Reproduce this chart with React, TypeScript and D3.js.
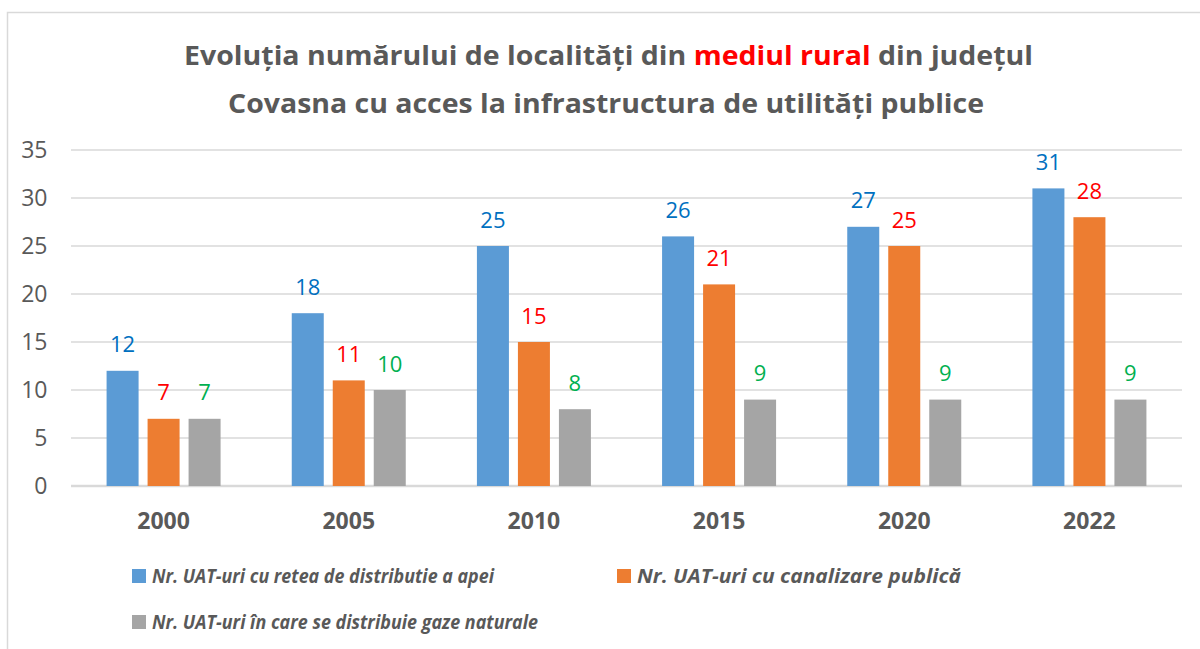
import React from "react";
import * as d3 from "d3";

const years = ["2000", "2005", "2010", "2015", "2020", "2022"];
const apa = [12, 18, 25, 26, 27, 31];
const canalizare = [7, 11, 15, 21, 25, 28];
const gaze = [7, 10, 8, 9, 9, 9];
const yTicks = [0, 5, 10, 15, 20, 25, 30, 35];
const seriesNames = [
  "Nr. UAT-uri cu retea de distributie a apei",
  "Nr. UAT-uri cu canalizare publică",
  "Nr. UAT-uri în care se distribuie gaze naturale",
];
const barColors = ["#5B9BD5", "#ED7D31", "#A5A5A5"];
const labelColors = ["#0070C0", "#FF0000", "#00B050"];

const FONT = "'Open Sans', 'Noto Sans', sans-serif";
const TXT = "#595959";

export default function App() {
  const W = 1200, H = 649;
  const x0 = 71, x1 = 1182, yTop = 150, yBot = 486;
  const x = d3.scaleBand<string>().domain(years).range([x0, x1]).paddingInner(0).paddingOuter(0);
  const y = d3.scaleLinear().domain([0, 35]).range([yBot, yTop]);
  const series = [apa, canalizare, gaze];
  const barW = 32, gap = 9;
  const groupW = 3 * barW + 2 * gap;

  const legend = [
    { k: 0, sx: 132, sy: 569, len: 342 },
    { k: 1, sx: 617, sy: 569, len: 324 },
    { k: 2, sx: 132, sy: 615, len: 386 },
  ];

  return (
    <svg width={W} height={H} style={{ position: "absolute", left: 0, top: 0 }} fontFamily={FONT}>
      <rect x={0} y={0} width={W} height={H} fill="#fff" />
      <rect x={7.5} y={12.5} width={1300} height={800} fill="none" stroke="#d9d9d9" strokeWidth={1.5} />
      <text x={608.5} y={65} textAnchor="middle" fontSize={27} fontWeight={700} fill={TXT}
        textLength={849} lengthAdjust="spacingAndGlyphs">
        Evoluția numărului de localități din <tspan fill="#FF0000">mediul rural</tspan> din județul
      </text>
      <text x={606} y={113} textAnchor="middle" fontSize={27} fontWeight={700} fill={TXT}
        textLength={756} lengthAdjust="spacingAndGlyphs">
        Covasna cu acces la infrastructura de utilități publice
      </text>
      {yTicks.map((t) => (
        <g key={t}>
          <line x1={x0} x2={x1} y1={y(t)} y2={y(t)} stroke="#d9d9d9" strokeWidth={t === 0 ? 2.5 : 1.5} />
          <text x={47.5} y={y(t) + 8.3} textAnchor="end" fontSize={23} fill={TXT}>{t}</text>
        </g>
      ))}
      {years.map((yr, i) => {
        const cx = (x(yr) as number) + x.bandwidth() / 2;
        const start = cx - groupW / 2;
        return (
          <g key={yr}>
            {series.map((s, k) => {
              const bx = start + k * (barW + gap);
              const v = s[i];
              return (
                <g key={k}>
                  <rect x={bx} y={y(v)} width={barW} height={yBot - y(v)} fill={barColors[k]} />
                  <text x={bx + barW / 2} y={y(v) - 18.5} textAnchor="middle" fontSize={22} fill={labelColors[k]}>{v}</text>
                </g>
              );
            })}
            <text x={cx} y={529} textAnchor="middle" fontSize={23} fontWeight={700} fill={TXT}>{yr}</text>
          </g>
        );
      })}
      {legend.map(({ k, sx, sy, len }) => (
        <g key={k}>
          <rect x={sx} y={sy} width={14} height={14} fill={barColors[k]} />
          <text x={sx + 20} y={sy + 14} fontSize={20} fontWeight={700} fontStyle="italic" fill={TXT}
            textLength={len} lengthAdjust="spacingAndGlyphs">{seriesNames[k]}</text>
        </g>
      ))}
    </svg>
  );
}
